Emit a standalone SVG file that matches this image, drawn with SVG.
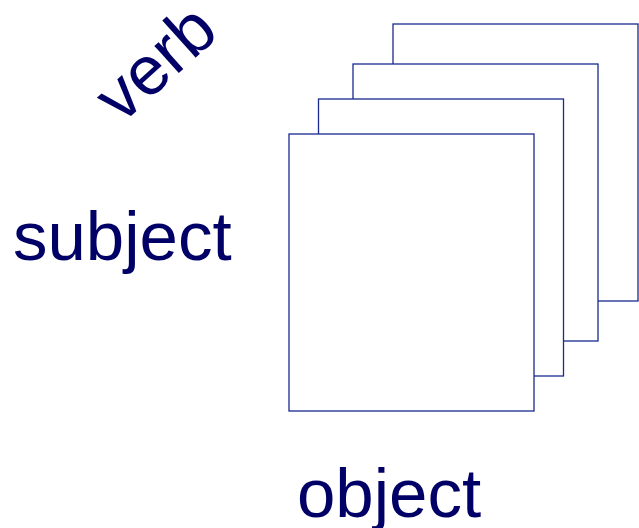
<svg xmlns="http://www.w3.org/2000/svg" width="639" height="528" viewBox="0 0 639 528">
<style>
.page{fill:#ffffff;stroke:#1a2a8f;stroke-width:1.3}
.lbl{font-family:"Liberation Sans",Arial,sans-serif;font-size:69px;fill:#000066}
</style>
<rect width="639" height="528" fill="#ffffff"/>
<g id="page4"><rect class="page" x="393" y="24" width="245" height="277"/></g>
<g id="page3"><rect class="page" x="353" y="64" width="245" height="277"/></g>
<g id="page2"><rect class="page" x="318.5" y="99" width="245" height="277"/></g>
<g id="page1"><rect class="page" x="289" y="134" width="245" height="277"/></g>
<g id="verb"><text class="lbl" transform="translate(121,125) rotate(-42)">verb</text></g>
<g id="subject"><text class="lbl" x="13" y="260">subject</text></g>
<g id="object"><text class="lbl" x="297" y="517">object</text></g>
<g id="connectors"></g>
</svg>
